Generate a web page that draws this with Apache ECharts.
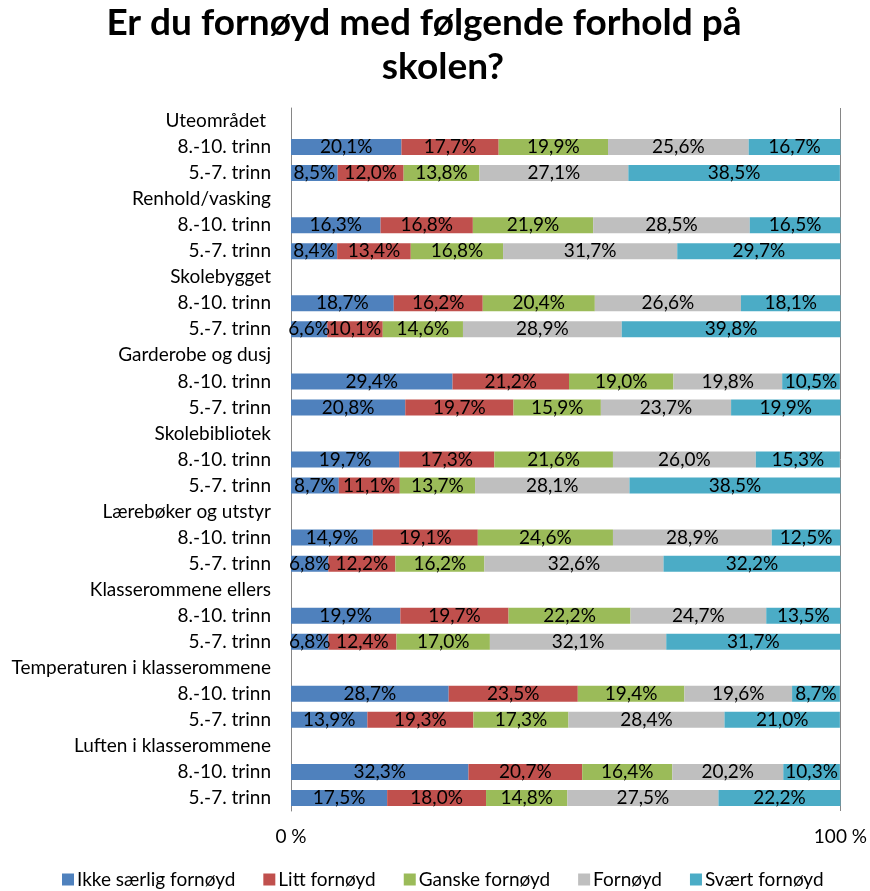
<!DOCTYPE html>
<html>
<head>
<meta charset="utf-8">
<script src="https://cdn.jsdelivr.net/npm/echarts@6/dist/echarts.min.js"></script>
<style>
html,body{margin:0;padding:0;background:#fff;}
#chart{width:870px;height:891px;}
</style>
</head>
<body>
<div id="chart"></div>
<script>
const titleLines = ['Er du fornøyd med følgende forhold på', 'skolen?'];
const groups = ['Uteområdet ', 'Renhold/vasking', 'Skolebygget', 'Garderobe og dusj', 'Skolebibliotek', 'Lærebøker og utstyr', 'Klasserommene ellers', 'Temperaturen i klasserommene', 'Luften i klasserommene'];
const levels = ['8.-10. trinn', '5.-7. trinn'];
const seriesNames = ['Ikke særlig fornøyd', 'Litt fornøyd', 'Ganske fornøyd', 'Fornøyd', 'Svært fornøyd'];
const seriesColors = ['#4F81BD', '#C0504D', '#9BBB59', '#BFBFBF', '#4BACC6'];
// each pair: [8.-10. trinn, 5.-7. trinn]
const ikkeSaerlig = [[20.1, 8.5], [16.3, 8.4], [18.7, 6.6], [29.4, 20.8], [19.7, 8.7], [14.9, 6.8], [19.9, 6.8], [28.7, 13.9], [32.3, 17.5]];
const litt = [[17.7, 12.0], [16.8, 13.4], [16.2, 10.1], [21.2, 19.7], [17.3, 11.1], [19.1, 12.2], [19.7, 12.4], [23.5, 19.3], [20.7, 18.0]];
const ganske = [[19.9, 13.8], [21.9, 16.8], [20.4, 14.6], [19.0, 15.9], [21.6, 13.7], [24.6, 16.2], [22.2, 17.0], [19.4, 17.3], [16.4, 14.8]];
const fornoyd = [[25.6, 27.1], [28.5, 31.7], [26.6, 28.9], [19.8, 23.7], [26.0, 28.1], [28.9, 32.6], [24.7, 32.1], [19.6, 28.4], [20.2, 27.5]];
const svaert = [[16.7, 38.5], [16.5, 29.7], [18.1, 39.8], [10.5, 19.9], [15.3, 38.5], [12.5, 32.2], [13.5, 31.7], [8.7, 21.0], [10.3, 22.2]];
const xTickLabels = ['0 %', '100 %'];

const seriesValues = [ikkeSaerlig, litt, ganske, fornoyd, svaert];
const categories = [];
groups.forEach(g => { categories.push(g, levels[0], levels[1]); });

function rowData(pairs) {
  const out = [];
  pairs.forEach(p => { out.push(null, p[0], p[1]); });
  return out;
}

const FONT = 'Lato, "Open Sans", sans-serif';
const titleStyle = {fontFamily: FONT, fontWeight: 'bold', fontSize: 37, color: '#000', lineHeight: 44};
const chart = echarts.init(document.getElementById('chart'), null, {renderer: 'canvas'});
chart.setOption({
  animation: false,
  backgroundColor: '#ffffff',
  title: [
    {text: titleLines[0], left: 419, top: -4, textAlign: 'center', textStyle: titleStyle},
    {text: titleLines[1], left: 438, top: 40, textAlign: 'center', textStyle: titleStyle}
  ],
  legend: {
    data: seriesNames,
    top: 870,
    left: 62,
    itemWidth: 12,
    itemHeight: 12,
    itemGap: 28,
    icon: 'rect',
    padding: 0,
    textStyle: {fontFamily: FONT, fontSize: 19, color: '#000', padding: [0, 0, 0, -2]}
  },
  grid: {left: 291, right: 25, top: 108, bottom: 80},
  xAxis: {
    type: 'value',
    min: 0,
    max: 100,
    interval: 100,
    axisLine: {show: false},
    axisTick: {show: false},
    splitLine: {show: true, lineStyle: {color: '#868686', width: 1}},
    axisLabel: {
      fontFamily: FONT, fontSize: 19, color: '#000', margin: 16,
      formatter: v => (v === 0 ? xTickLabels[0] : xTickLabels[1])
    }
  },
  yAxis: {
    type: 'category',
    data: categories,
    inverse: true,
    axisLine: {show: true, lineStyle: {color: '#868686'}},
    axisTick: {show: false},
    axisLabel: {fontFamily: FONT, fontSize: 19, color: '#000', margin: 20, interval: 0}
  },
  series: seriesNames.map((name, i) => ({
    name: name,
    type: 'bar',
    stack: 'total',
    barWidth: 16,
    itemStyle: {color: seriesColors[i]},
    label: {
      show: true,
      position: 'inside',
      fontFamily: FONT,
      fontSize: 19,
      color: '#000',
      formatter: p => (p.value == null ? '' : p.value.toFixed(1).replace('.', ',') + '%')
    },
    data: rowData(seriesValues[i])
  }))
});
</script>
</body>
</html>
